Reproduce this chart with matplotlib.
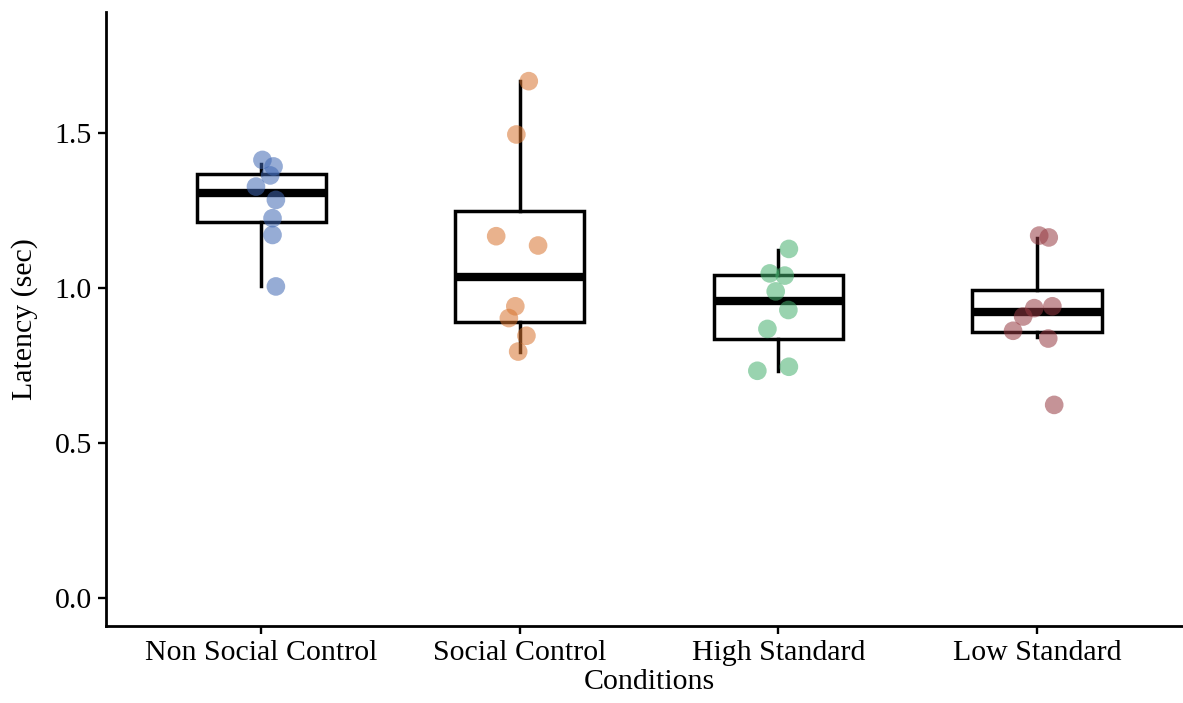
#!/usr/bin/env python3
"""Latency by condition: box plot with jittered points."""

import matplotlib
matplotlib.use("Agg")
import matplotlib.pyplot as plt

conditions = ["Non Social Control", "Social Control", "High Standard", "Low Standard"]

# latency values (sec)
non_social = [1.413, 1.392, 1.363, 1.327, 1.284, 1.225, 1.171, 1.005]
social = [1.667, 1.495, 1.167, 1.137, 0.941, 0.903, 0.846, 0.795]
high_std = [1.126, 1.047, 1.040, 0.989, 0.929, 0.868, 0.746, 0.733]
low_std = [1.169, 1.163, 0.935, 0.941, 0.908, 0.862, 0.837, 0.623]

# horizontal jitter of each point (category units)
jitter_non_social = [0.005, 0.048, 0.035, -0.020, 0.057, 0.044, 0.044, 0.057]
jitter_social = [0.035, -0.013, -0.091, 0.071, -0.017, -0.042, 0.026, -0.006]
jitter_high = [0.041, -0.033, 0.025, -0.010, 0.039, -0.042, 0.041, -0.081]
jitter_low = [0.009, 0.046, -0.010, 0.060, -0.053, -0.092, 0.044, 0.067]

# box stats: whisker low, q1, median, q3, whisker high
whisker_lo = [1.006, 0.795, 0.733, 0.841]
q1 = [1.212, 0.889, 0.837, 0.857]
medians = [1.307, 1.037, 0.959, 0.922]
q3 = [1.368, 1.248, 1.042, 0.994]
whisker_hi = [1.400, 1.666, 1.123, 1.161]

colors = ["#4068b4", "#d8742f", "#45b06e", "#963a42"]
yticks = [0.0, 0.5, 1.0, 1.5]

values = [non_social, social, high_std, low_std]
jitters = [jitter_non_social, jitter_social, jitter_high, jitter_low]

plt.rcParams["font.family"] = ["Liberation Serif", "DejaVu Serif"]

fig = plt.figure(figsize=(11.83, 7.03), dpi=100)
ax = fig.add_axes([106 / 1183, 77 / 703, 1086 / 1183, 614 / 703])

stats = [
    {"whislo": lo, "q1": a, "med": m, "q3": b, "whishi": hi, "fliers": []}
    for lo, a, m, b, hi in zip(whisker_lo, q1, medians, q3, whisker_hi)
]
positions = list(range(1, len(conditions) + 1))
ax.bxp(
    stats,
    positions=positions,
    widths=0.5,
    showcaps=False,
    showfliers=False,
    patch_artist=True,
    boxprops=dict(facecolor="white", edgecolor="black", linewidth=2.5,
                  joinstyle="miter"),
    whiskerprops=dict(color="black", linewidth=2.5),
    medianprops=dict(color="black", linewidth=6, solid_capstyle="butt"),
    zorder=2,
)

for pos, vals, jit, col in zip(positions, values, jitters, colors):
    ax.scatter([pos + j for j in jit], vals, s=180, color=col, alpha=0.55,
               edgecolors="none", zorder=3)

ax.set_xlim(0.4, 4.6)
ax.set_ylim(-0.09, 1.89)
ax.set_xticks(positions)
ax.set_xticklabels(conditions)
ax.set_yticks(yticks)
ax.set_yticklabels([f"{t:.1f}" for t in yticks])

for side in ["top", "right"]:
    ax.spines[side].set_visible(False)
for side in ["left", "bottom"]:
    ax.spines[side].set_linewidth(2.0)
ax.tick_params(axis="both", labelsize=21.5, width=1.7, length=6, color="black",
               labelcolor="black", pad=4)

ax.set_xlabel("Conditions", fontsize=21.5, labelpad=2)
ax.set_ylabel("Latency (sec)", fontsize=21.5, labelpad=12)

fig.savefig("out.png", dpi=100)
